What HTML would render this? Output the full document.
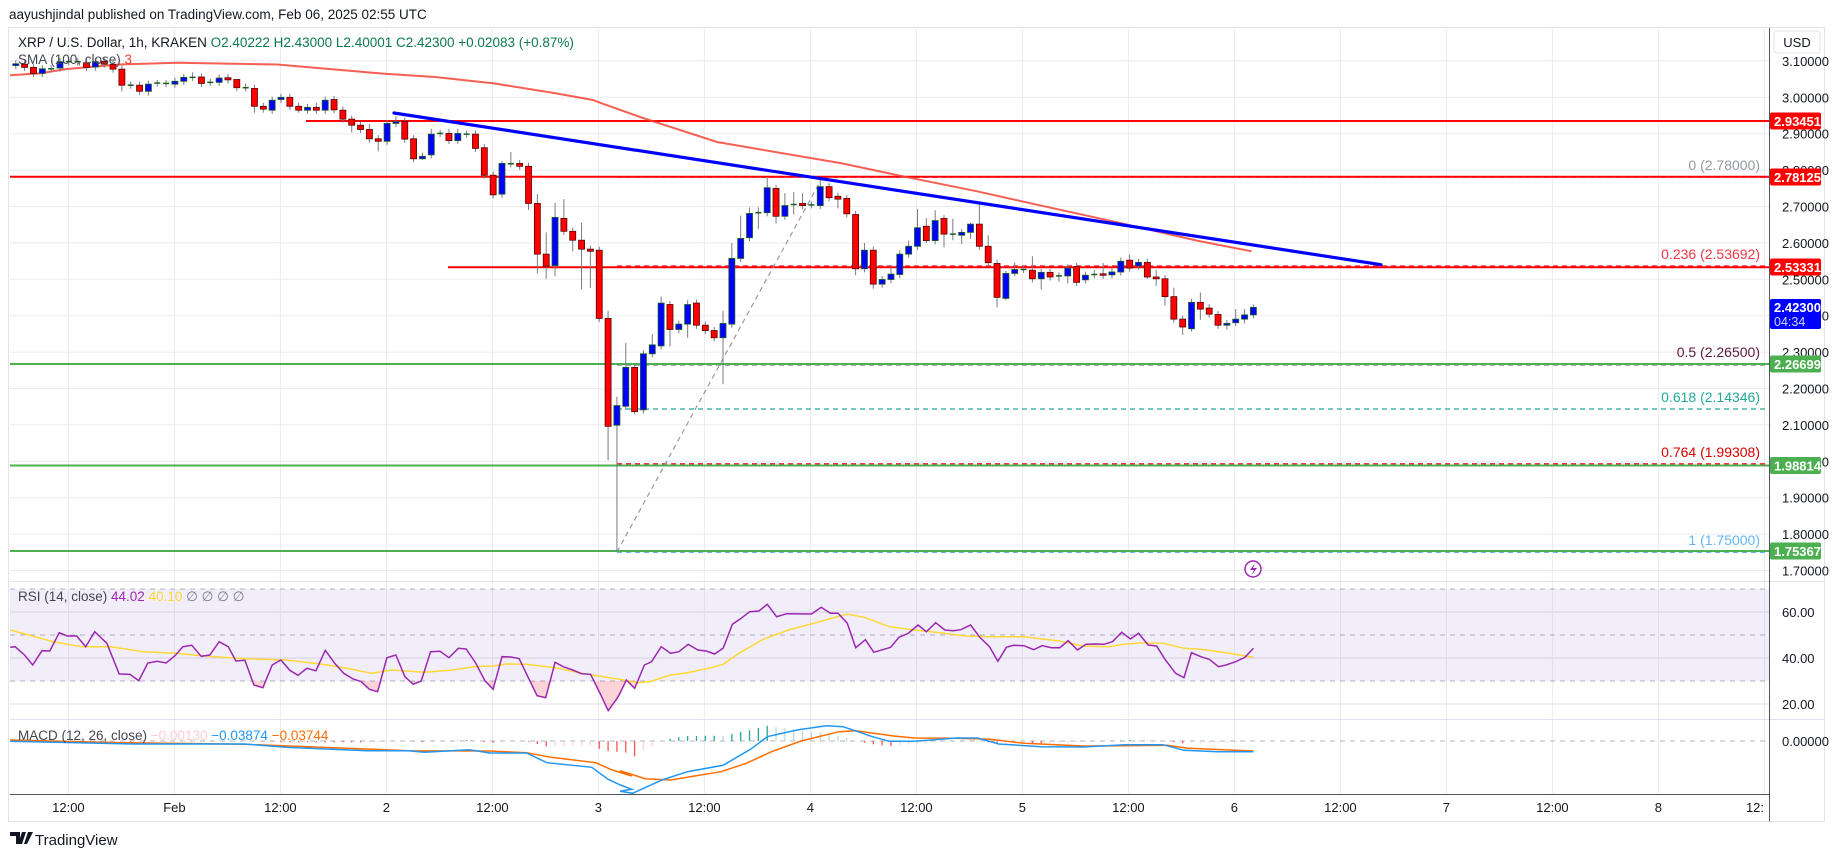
<!DOCTYPE html>
<html><head><meta charset="utf-8"><style>
html,body{margin:0;padding:0;background:#fff;}
svg{display:block;font-family:"Liberation Sans",sans-serif;}
</style></head><body>
<svg id="s" width="1835" height="857" viewBox="0 0 1835 857" xmlns="http://www.w3.org/2000/svg">
<rect x="0" y="0" width="1835" height="857" fill="#fff"/>
<text x="9" y="19" font-size="13.5" fill="#131722">aayushjindal published on TradingView.com, Feb 06, 2025 02:55 UTC</text>
<rect x="8.5" y="27.5" width="1816" height="794" fill="#fff" stroke="#e0e3eb"/>
<g id="grid"></g>
<rect x="10" y="589" width="1759" height="92" fill="#7e57c2" fill-opacity="0.1"/>
<g id="main"></g>
<g id="ind"></g>
<g id="axis"></g>
</svg>
<script>
var NS="http://www.w3.org/2000/svg";
function el(parent,tag,attrs,text){var e=document.createElementNS(NS,tag);for(var k in attrs)e.setAttribute(k,attrs[k]);if(text!==undefined)e.textContent=text;document.getElementById(parent).appendChild(e);return e;}
function py(p){return 97.3+(3-p)*364;}
function zy(z){return 27+z/2.8;}
var L=10,R=1769;
// grid
for(var p=3.1;p>1.65;p-=0.1){var y=py(p);if(y>28&&y<581)el("grid","line",{x1:L,x2:R,y1:y,y2:y,stroke:"#e9ebf0","stroke-width":1});}
[612,658,704].forEach(function(y){el("grid","line",{x1:L,x2:R,y1:y,y2:y,stroke:"#e0dce8","stroke-width":1});});
for(var x=68.4;x<R;x+=106){el("grid","line",{x1:x,x2:x,y1:28,y2:794,stroke:"#e9ebf0","stroke-width":1});}
// pane separators
el("grid","line",{x1:L,x2:1824,y1:581.5,y2:581.5,stroke:"#e0e3eb"});
el("grid","line",{x1:L,x2:1824,y1:719.5,y2:719.5,stroke:"#e0e3eb"});
el("grid","line",{x1:L,x2:R,y1:794.5,y2:794.5,stroke:"#50535e"});
el("grid","line",{x1:R+0.5,x2:R+0.5,y1:28,y2:821,stroke:"#50535e"});
// rsi dashed
[589,635,681].forEach(function(y){el("grid","line",{x1:L,x2:R,y1:y,y2:y,stroke:"#b2b5be","stroke-dasharray":"5,5"});});
el("grid","line",{x1:L,x2:R,y1:741,y2:741,stroke:"#b2b5be","stroke-dasharray":"5,5"});
// horizontal S/R lines
function hl(y,x1,c,w,d){var a={x1:x1,x2:R,y1:y,y2:y,stroke:c,"stroke-width":w};if(d)a["stroke-dasharray"]=d;el("main","line",a);}
var fx=617;
hl(177.4,fx,"#9598a1",1.2,"5,4");
hl(265.9,fx,"#f23645",1.2,"5,4");
hl(364.8,fx,"#222",1.2,"5,4");
hl(409,fx,"#22ab94",1.2,"5,4");
hl(463.8,fx,"#f23645",1.5,"5,4");
hl(552.3,fx,"#64b5f6",1.5,"5,4");
hl(121,306,"#ff0000",2);
hl(176.8,L,"#ff0000",2);
hl(267.2,448,"#ff0000",2);
hl(364,L,"#4caf50",2);
hl(465.5,L,"#4caf50",2);
hl(551,L,"#4caf50",2);
el("main","line",{x1:617,y1:552,x2:821,y2:180,stroke:"#9598a1","stroke-width":1.2,"stroke-dasharray":"5,4"});
// fib labels
function fl(y,t,c){el("main","text",{x:1760,y:y,"font-size":"14","text-anchor":"end",fill:c},t);}
fl(170,"0 (2.78000)","#9598a1");fl(259,"0.236 (2.53692)","#f23645");fl(357,"0.5 (2.26500)","#5d1a3a");
fl(402,"0.618 (2.14346)","#22ab94");fl(457,"0.764 (1.99308)","#d50000");fl(545,"1 (1.75000)","#64b5f6");
// SMA
var sma=[[10,75.2],[39.5,73.4],[67,69],[119,64.5],[178,62.7],[277,64.5],[380,73.4],[435,77],[494,83.4],[554,93],[593,100],[600,102.7],[643,118],[717,142],[842,163.4],[903,176.3],[977,191.3],[1033,203.8],[1119,222.7],[1197,240.6],[1251.5,251.3]];
el("main","polyline",{points:sma.map(function(a){return a.join(",");}).join(" "),fill:"none",stroke:"#f44336","stroke-width":2,"stroke-opacity":0.85});
// candles
var C=[
["b",103,108],["r",104,113],["r",113,130],["b",117,130],["d",117],["b",97,115],["d",97],["d",97],["r",100,113],["b",97,112],
["r",96,104],["r",105,118],["r",118,163,null,180],["d",163],["r",163,180,null,190],["b",160,180,null,192],["d",157,148],["d",158],["b",152,160],["b",141,152],
["d",141,127],["r",140,158],["d",155],["b",143,155],["r",142,148],["r",147,170,158],["d",170,158],["r",172,222,null,240],["r",222,230],["b",205,233],
["b",197,203],["r",197,222],["r",222,233,null,240],["b",225,233],["r",225,233,212],["b",205,233],["r",203,232],["r",233,258,null,268],["r",258,275,null,295],["r",275,287],
["r",287,313,272],["r",313,320,null,348],["b",270,320],["b",265,270,250],["r",264,314],["r",313,369],["b",362,369,null,372],["b",300,358,285],["d",298],["r",298,318,285],
["b",298,318,285],["d",300],["r",300,340],["r",338,415],["r",415,470],["b",382,468,375],["d",383,350],["r",382,390],["r",390,494,null,512],["r",494,636,468,690],
["r",636,670,575,705],["b",533,668,492,698],["r",536,572,482],["r",572,597,null,628],["r",597,622,548,735],["r",622,628,null,730],["r",625,816],["r",816,1118,795,1213],["b",1060,1115,1035,1470],["b",953,1062,885],
["r",953,1077,null,1085],["b",915,1072],["b",890,915,860],["b",773,893,755],["r",777,847,null,895],["b",832,847],["b",777,832,765,870],["r",773,835],["r",835,850],["r",850,870],
["b",830,870,795,1000],["b",648,832,605],["b",592,648,528],["b",522,590,505],["d",520,505,565],["b",450,520,420],["r",452,530,null,550],["b",500,530,465],["d",497,462,525],["r",494,500,465],
["d",498],["b",447,500,420],["r",447,478,437],["r",474,482,null,508],["r",480,523],["r",525,677,null,695],["b",625,677,605],["r",625,720,null,733],["b",707,720],["b",692,707,668],
["b",636,693,625],["b",614,636,598],["b",562,614,510],["r",558,598,535,605],["b",542,598,513],["r",536,580,null,617],["d",580,537,597],["b",575,583,565,608],["b",552,575,548,593],["r",552,614,497],
["r",614,660,583],["r",662,757,null,785],["b",690,760,683,765],["b",679,690,659,698],["d",679],["r",681,705,642],["b",687,705,null,735],["r",687,700],["d",697,null,713],["b",675,697,665,718],
["r",671,715],["b",695,708],["d",693,680],["r",691,695,661],["b",686,694],["b",656,686,645],["r",653,675,637],["b",659,669],["r",659,700,null,705],["r",700,705,680,725],
["r",705,755,null,780],["r",755,818,730],["r",818,840,null,862],["b",771,845,null,853],["r",771,790,743,820],["r",787,804,776],["r",805,835,null,845],["b",830,835,null,847],["b",818,828,790],["b",806,818,790,830],
["b",785,806,777]];
C.forEach(function(c,i){
 var x=15.8+i*8.84,t=c[0],top=c[1],bot=(t=="d")?c[1]:c[2];
 var hi=(t=="d")?c[2]:c[3],lo=(t=="d")?c[3]:c[4];
 if(hi==null)hi=top-10;if(lo==null)lo=bot+10;
 el("main","line",{x1:x,x2:x,y1:zy(hi),y2:zy(lo),stroke:"#787b86","stroke-width":1});
 if(t=="d"){el("main","line",{x1:x-3,x2:x+3,y1:zy(top),y2:zy(top),stroke:"#1b5e20","stroke-width":1.5});}
 else{var y1=zy(top),h=Math.max(zy(bot)-y1,1.5);
  el("main","rect",{x:x-3,y:y1,width:6,height:h,fill:t=="r"?"#ff0000":"#0000ff",stroke:t=="r"?"#5a0000":"#1b5e20","stroke-width":0.8});}
});
// trendline
el("main","line",{x1:394,y1:113,x2:1381,y2:264.7,stroke:"#0000ff","stroke-width":3.2,"stroke-linecap":"round"});
// lightning icon
el("main","circle",{cx:1253,cy:569,r:8,fill:"#fff",stroke:"#9c27b0","stroke-width":1.5});
el("main","path",{d:"M1255 563 L1250 570 L1254 570 L1251 576 L1257 568 L1253 568 Z",fill:"#9c27b0"});
// RSI
var r7=[[25,202],[37,200],[60,225],[80,255],[103,212],[122,213],[145,158],[165,168],[188,168],[210,200],[232,155],[262,190],[292,282],[318,283],[340,302],[362,249],[385,244],[407,249],[428,228],[448,200],[470,196],[493,229],[514,225],[537,185],[559,200],[578,243],[600,241],[622,315],[644,323],[667,255],[688,240],[710,271],[730,286],[752,265],[774,272],[797,211],[820,250],[842,280],[865,297],[885,305],[905,328],[925,335],[948,233],[970,225],[992,290],[1012,313],[1032,303],[1055,215],[1078,214],[1100,233],[1123,205],[1142,207],[1165,248],[1188,302],[1208,328],[1230,230],[1252,231],[1272,236],[1295,295],[1316,347],[1337,353],[1360,247],[1380,260],[1403,270],[1425,281],[1447,283],[1470,340],[1490,392],[1512,355]];
var r8=[[0,340],[15,300],[35,325],[58,255],[75,245],[98,200],[120,220],[140,215],[162,193],[185,210],[205,213],[225,222],[245,205],[267,133],[288,115],[308,95],[330,93],[350,73],[372,110],[396,101],[455,102],[478,82],[500,100],[518,100],[540,130],[560,203],[583,179],[603,217],[643,202],[663,172],[685,160],[708,135],[728,155],[750,128],[772,150],[792,152],[810,149],[833,135],[855,172],[878,200],[898,244],[918,202],[935,196],[960,197],[983,209],[1003,197],[1025,203],[1045,203],[1065,182],[1087,210],[1107,193],[1130,192],[1150,193],[1170,185],[1192,157],[1213,177],[1232,160],[1255,195],[1275,198],[1295,238],[1320,280],[1340,293],[1358,218],[1380,230],[1400,238],[1422,260],[1440,255],[1463,245],[1485,232],[1505,205]];
function cv(a7,a8,y0,fy){var o=[];a7.forEach(function(p){o.push([p[0]/2.45,y0+p[1]/fy]);});a8.forEach(function(p){o.push([620+p[0]/2.376,y0+p[1]/fy]);});return o;}
function pts(a){return a.map(function(p){return p[0].toFixed(1)+","+p[1].toFixed(1);}).join(" ");}
var rsi=cv(r7,r8,580,3);
var m7=[[25,150],[130,185],[200,200],[270,200],[350,215],[430,220],[500,228],[600,236],[700,240],[790,253],[850,265],[910,280],[960,270],[1040,277],[1110,270],[1160,260],[1210,258],[1240,252],[1290,253],[1360,263],[1440,283],[1500,295]];
var m8=[[0,298],[40,308],[70,305],[120,285],[160,278],[220,262],[245,253],[280,222],[340,178],[400,150],[460,130],[540,102],[580,112],[640,140],[700,150],[760,158],[820,168],[880,170],[960,170],[1040,182],[1100,198],[1160,200],[1200,192],[1240,189],[1290,190],[1340,205],[1380,208],[1440,218],[1505,232]];
var rma=cv(m7,m8,580,3);
el("ind","clipPath",{id:"os"});
el("os","rect",{x:0,y:681,width:1835,height:40});
el("ind","polygon",{points:pts(rsi)+" "+rsi[rsi.length-1][0].toFixed(1)+",681 "+rsi[0][0].toFixed(1)+",681",fill:"#f23645","fill-opacity":0.22,"clip-path":"url(#os)"});
el("ind","polyline",{points:pts(rma),fill:"none",stroke:"#fdd835","stroke-width":1.5});
el("ind","polyline",{points:pts(rsi),fill:"none",stroke:"#9c27b0","stroke-width":1.5});
// MACD
var b7=[[25,484],[330,492],[600,492],[700,502],[900,512],[1000,512],[1040,517],[1150,509],[1200,519],[1290,519],[1340,548],[1450,562],[1490,598],[1520,615],[1548,628]];
var b8=[[0,634],[30,640],[100,600],[160,575],[245,556],[310,508],[350,470],[420,450],[490,437],[530,440],[600,470],[640,484],[700,484],[800,474],[850,474],[900,492],[1000,500],[1100,501],[1200,494],[1290,494],[1340,511],[1420,515],[1505,515]];
var o7=[[25,480],[300,488],[600,493],[850,505],[1000,512],[1200,513],[1290,518],[1350,532],[1460,548],[1500,570],[1548,588]];
var o8=[[0,572],[60,596],[120,600],[240,575],[300,550],[360,515],[430,483],[520,455],[560,452],[650,468],[700,474],[800,475],[880,478],[960,490],[1100,498],[1200,497],[1300,496],[1350,505],[1505,513]];
var mb=cv(b7,b8,580,3),mo=cv(o7,o8,580,3);
function interp(a,x){if(x<=a[0][0])return a[0][1];for(var i=1;i<a.length;i++){if(x<=a[i][0]){var t=(x-a[i-1][0])/(a[i][0]-a[i-1][0]);return a[i-1][1]+t*(a[i][1]-a[i-1][1]);}}return a[a.length-1][1];}
var prev=0;
for(var i=0;i<141;i++){var x=15.8+i*8.84;var h=interp(mo,x)-interp(mb,x);
 var col=h>=0?(h>=prev?"#26a69a":"#b2dfdb"):(h<=prev?"#ff5252":"#ffcdd2");prev=h;
 if(Math.abs(h)>0.3)el("ind","line",{x1:x,x2:x,y1:741,y2:741-h*0.9,stroke:col,"stroke-width":1.3});}
el("ind","polyline",{points:pts(mo),fill:"none",stroke:"#ff6d00","stroke-width":1.5});
el("ind","polyline",{points:pts(mb),fill:"none",stroke:"#2196f3","stroke-width":1.5});
// legends
var lg=el("axis","text",{x:18,y:47,"font-size":"13.5",fill:"#131722"});
lg.innerHTML='XRP / U.S. Dollar, 1h, KRAKEN <tspan fill="#0b7a4b">O2.40222 H2.43000 L2.40001 C2.42300 +0.02083 (+0.87%)</tspan>';
var sm=el("axis","text",{x:18,y:64,"font-size":"13.5",fill:"#434651"});
sm.innerHTML='SMA (100, close) <tspan fill="#f44336">3</tspan>';
var rl=el("axis","text",{x:18,y:601,"font-size":"13.5",fill:"#434651"});
rl.innerHTML='RSI (14, close) <tspan fill="#9c27b0">44.02</tspan> <tspan fill="#fdd835">40.10</tspan> <tspan fill="#787b86">∅ ∅ ∅ ∅</tspan>';
var ml=el("axis","text",{x:18,y:740,"font-size":"13.5",fill:"#434651"});
ml.innerHTML='MACD (12, 26, close) <tspan fill="#ffcdd2">−0.00130</tspan> <tspan fill="#2196f3">−0.03874</tspan> <tspan fill="#ff6d00">−0.03744</tspan>';
// price axis
for(var k=31;k>=17;k--){var p=k/10,y=py(p);el("axis","text",{x:1782,y:y+5,"font-size":"13",fill:"#131722"},p.toFixed(5));}
[[60,612],[40,658],[20,704]].forEach(function(a){el("axis","text",{x:1782,y:a[1]+5,"font-size":"13",fill:"#131722"},a[0].toFixed(2));});
el("axis","text",{x:1782,y:746,"font-size":"13",fill:"#131722"},"0.00000");
el("axis","rect",{x:1774,y:31,width:46,height:22,rx:3,fill:"#fff",stroke:"#e0e3eb"});
el("axis","text",{x:1797,y:47,"font-size":"13","text-anchor":"middle",fill:"#131722"},"USD");
function box(y,t,c){el("axis","rect",{x:1770,y:y-8.5,width:51,height:17,rx:2,fill:c});el("axis","text",{x:1774,y:y+5,"font-size":"13","font-weight":"bold",fill:"#fff"},t);}
box(121,"2.93451","#ff0000");box(177,"2.78125","#ff0000");box(267,"2.53331","#ff0000");
box(364,"2.26699","#4caf50");box(465.5,"1.98814","#4caf50");box(551,"1.75367","#4caf50");
el("axis","rect",{x:1770,y:299,width:51,height:30,rx:2,fill:"#0000ff"});
el("axis","text",{x:1774,y:312,"font-size":"13","font-weight":"bold",fill:"#fff"},"2.42300");
el("axis","text",{x:1774,y:326,"font-size":"12.5",fill:"#cfd8ff"},"04:34");
// time axis
var tl=["12:00","Feb","12:00","2","12:00","3","12:00","4","12:00","5","12:00","6","12:00","7","12:00","8"];
tl.forEach(function(t,i){el("axis","text",{x:68.4+i*106,y:812,"font-size":"13","text-anchor":"middle",fill:"#131722"},t);});
el("axis","text",{x:1755,y:812,"font-size":"13","text-anchor":"middle",fill:"#131722"},"12:");
// footer logo
el("axis","path",{d:"M10 832 h10 v12 h-4 v-8 h-6 z M22 832 h4 l-4 12 h-4 z M28 832 h5 l-6 12 h-3 z",fill:"#131722"});
el("axis","text",{x:35,y:845,"font-size":"15",fill:"#131722"},"TradingView");
</script>
</body></html>
